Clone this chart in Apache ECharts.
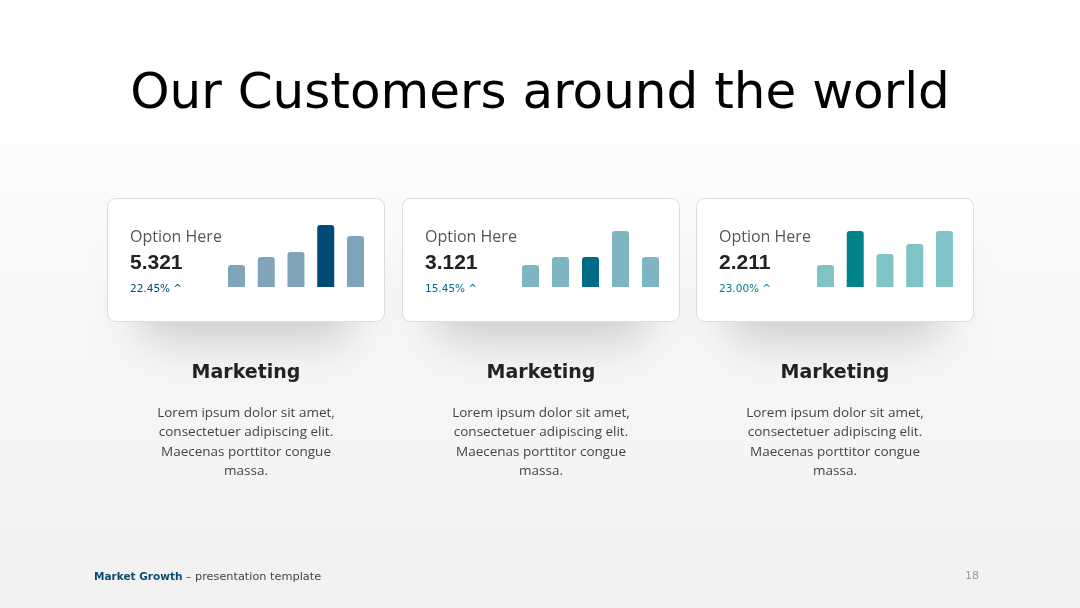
<!DOCTYPE html>
<html>
<head>
<meta charset="utf-8">
<script src="https://cdn.jsdelivr.net/npm/echarts@6/dist/echarts.min.js"></script>
<style>
html,body{margin:0;padding:0;background:#fff;}
#main{width:1080px;height:608px;}
</style>
</head>
<body>
<div id="main"></div>
<script>
// ---- data ----
const categories = ['A', 'B', 'C', 'D', 'E'];
const seriesCard1 = [22, 30, 35, 62, 51];
const seriesCard2 = [22, 30, 30, 56, 30];
const seriesCard3 = [22, 56, 33, 43, 56];
const highlightIndex = [3, 2, 1];
const cardValues = ['5.321', '3.121', '2.211'];
const cardPercents = ['22.45% ^', '15.45% ^', '23.00% ^'];
const cardLabel = 'Option Here';
const headings = ['Marketing', 'Marketing', 'Marketing'];
const bodyText = 'Lorem ipsum dolor sit amet,\nconsectetuer adipiscing elit.\nMaecenas porttitor congue\nmassa.';
const titleText = 'Our Customers around the world';

// ---- styling / layout ----
const lightColors = ['#7fa4bc', '#7fb4c3', '#7fc3c7'];
const darkColors = ['#004a75', '#006a87', '#008489'];
const cardX = [107, 402, 696];
const cardW = 278, cardY = 198, cardH = 124;
const gridLeft = [221.6, 515.5, 810.6];
const gridWidth = [148.75, 150, 148.75];
const allSeries = [seriesCard1, seriesCard2, seriesCard3];

const chart = echarts.init(document.getElementById('main'), null, {renderer: 'canvas'});

const graphics = [];
// background
graphics.push({type: 'rect', z: -10, silent: true, shape: {x: 0, y: 0, width: 1080, height: 608},
  style: {fill: new echarts.graphic.LinearGradient(0, 0, 0, 1, [
    {offset: 0, color: '#ffffff'}, {offset: 0.23, color: '#ffffff'}, {offset: 0.245, color: '#fcfcfc'}, {offset: 1, color: '#f1f1f1'}])}});
graphics.push({type: 'text', left: 'center', top: 70, z: 5,
  style: {text: titleText, font: '400 50px "DejaVu Sans"', fill: '#000'}});

for (let i = 0; i < 3; i++) {
  const cx = cardX[i] + cardW / 2;
  // soft shadow (rect hidden behind card; only its blurred shadow shows)
  graphics.push({type: 'rect', z: -5, silent: true,
    shape: {x: cardX[i] + 30, y: cardY + 30, width: cardW - 60, height: cardH - 40, r: 30},
    style: {fill: '#ffffff', shadowBlur: 45, shadowColor: 'rgba(0,0,0,0.18)', shadowOffsetY: 28}});
  graphics.push({type: 'rect', z: -2, silent: true,
    shape: {x: cardX[i] + 0.5, y: cardY + 0.5, width: cardW - 1, height: cardH - 1, r: 8},
    style: {fill: '#ffffff', stroke: '#dcdcdc', lineWidth: 1}});
  graphics.push({type: 'text', x: cardX[i] + 23, y: 237, z: 5,
    style: {text: cardLabel, font: '400 16px "Open Sans"', fill: '#555', verticalAlign: 'middle'}});
  graphics.push({type: 'text', x: cardX[i] + 23, y: 263, z: 5,
    style: {text: cardValues[i], font: '700 21px "Liberation Sans"', fill: '#222', verticalAlign: 'middle'}});
  graphics.push({type: 'text', x: cardX[i] + 23, y: 289, z: 5,
    style: {text: cardPercents[i], font: '400 10.5px "DejaVu Sans"', fill: darkColors[i], verticalAlign: 'middle'}});
  graphics.push({type: 'text', x: cx, y: 373, z: 5,
    style: {text: headings[i], font: '700 19px "DejaVu Sans"', fill: '#222', align: 'center', verticalAlign: 'middle'}});
  graphics.push({type: 'text', x: cx, y: 403, z: 5,
    style: {text: bodyText, font: '400 13.5px "Open Sans"', fill: '#444', align: 'center', verticalAlign: 'top', lineHeight: 19.5}});
}
// footer
graphics.push({type: 'text', x: 94, y: 577, z: 5,
  style: {text: '{b|Market Growth} {n|– presentation template}', verticalAlign: 'middle',
    rich: {b: {font: '700 10.5px "DejaVu Sans"', fill: '#0d4a70'}, n: {font: '400 11.3px "DejaVu Sans"', fill: '#444'}}}});
graphics.push({type: 'text', x: 972, y: 576, z: 5,
  style: {text: '18', font: '400 11px "DejaVu Sans"', fill: '#999', align: 'center', verticalAlign: 'middle'}});

const grids = [], xAxes = [], yAxes = [], series = [];
for (let i = 0; i < 3; i++) {
  grids.push({left: gridLeft[i], width: gridWidth[i], top: 217, height: 70});
  xAxes.push({type: 'category', gridIndex: i, data: categories, show: false});
  yAxes.push({type: 'value', gridIndex: i, min: 0, max: 70, show: false});
  series.push({type: 'bar', xAxisIndex: i, yAxisIndex: i, barWidth: 17, silent: true,
    data: allSeries[i].map((v, k) => ({value: v, itemStyle: {color: k === highlightIndex[i] ? darkColors[i] : lightColors[i]}})),
    itemStyle: {borderRadius: [3, 3, 0, 0]}});
}

chart.setOption({
  animation: false,
  grid: grids, xAxis: xAxes, yAxis: yAxes, series: series,
  graphic: {elements: graphics}
});
</script>
</body>
</html>
